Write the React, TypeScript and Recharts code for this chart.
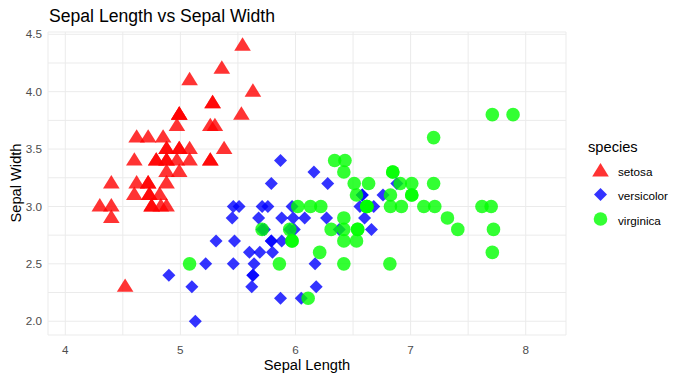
import { ScatterChart, Scatter, XAxis, YAxis, CartesianGrid } from 'recharts';

// sepal length / width per species
const setosaX = [5.54, 5.36, 5.08, 5.63, 5.28, 5.28, 4.99, 4.99, 4.99, 5.53, 4.97, 5.26, 5.3, 4.62, 4.72, 4.85, 4.88, 4.88, 4.99, 4.99, 5.08, 5.38, 4.6, 4.79, 4.79, 4.88, 4.88, 4.97, 5.08, 5.26, 5.26, 4.88, 4.99, 4.4, 4.62, 4.72, 4.72, 4.88, 4.6, 4.73, 4.73, 4.82, 4.3, 4.4, 4.75, 4.75, 4.83, 4.88, 4.4, 4.52];
const setosaY = [4.4, 4.2, 4.1, 4.0, 3.9, 3.9, 3.8, 3.8, 3.8, 3.8, 3.7, 3.7, 3.7, 3.6, 3.6, 3.6, 3.5, 3.5, 3.5, 3.5, 3.5, 3.5, 3.4, 3.4, 3.4, 3.4, 3.4, 3.4, 3.4, 3.4, 3.4, 3.3, 3.3, 3.2, 3.2, 3.2, 3.2, 3.2, 3.1, 3.1, 3.1, 3.1, 3.0, 3.0, 3.0, 3.0, 3.0, 3.0, 2.9, 2.3];

const versicolorX = [5.87, 6.16, 5.79, 6.28, 6.88, 6.58, 6.58, 6.76, 5.46, 5.51, 5.71, 5.76, 5.97, 6.56, 6.63, 6.68, 5.45, 5.68, 5.88, 5.98, 6.08, 6.27, 6.6, 5.71, 5.73, 5.95, 5.99, 6.38, 6.66, 5.31, 5.47, 5.79, 5.79, 5.88, 5.6, 5.69, 5.8, 5.22, 5.46, 5.64, 6.17, 4.9, 5.63, 5.63, 5.1, 5.62, 6.18, 5.87, 6.05, 5.13];
const versicolorY = [3.4, 3.3, 3.2, 3.2, 3.2, 3.1, 3.1, 3.1, 3.0, 3.0, 3.0, 3.0, 3.0, 3.0, 3.0, 3.0, 2.9, 2.9, 2.9, 2.9, 2.9, 2.9, 2.9, 2.8, 2.8, 2.8, 2.8, 2.8, 2.8, 2.7, 2.7, 2.7, 2.7, 2.7, 2.6, 2.6, 2.6, 2.5, 2.5, 2.5, 2.5, 2.4, 2.4, 2.4, 2.3, 2.3, 2.3, 2.2, 2.2, 2.0];

const virginicaX = [7.71, 7.89, 7.2, 6.34, 6.43, 6.42, 6.845, 6.845, 6.51, 6.635, 6.91, 7.01, 7.2, 6.53, 6.825, 7.01, 7.01, 6.02, 6.13, 6.22, 6.62, 6.62, 6.62, 6.825, 6.92, 7.115, 7.21, 7.62, 7.7, 6.42, 7.32, 5.71, 5.95, 6.31, 6.42, 6.54, 6.54, 7.41, 7.72, 5.97, 5.97, 6.42, 6.53, 6.21, 7.71, 5.08, 5.86, 6.42, 6.82, 6.11];
const virginicaY = [3.8, 3.8, 3.6, 3.4, 3.4, 3.3, 3.3, 3.3, 3.2, 3.2, 3.2, 3.2, 3.2, 3.1, 3.1, 3.1, 3.1, 3.0, 3.0, 3.0, 3.0, 3.0, 3.0, 3.0, 3.0, 3.0, 3.0, 3.0, 3.0, 2.9, 2.9, 2.8, 2.8, 2.8, 2.8, 2.8, 2.8, 2.8, 2.8, 2.7, 2.7, 2.7, 2.7, 2.6, 2.6, 2.5, 2.5, 2.5, 2.5, 2.2];

const xTicks = [4, 4.5, 5, 5.5, 6, 6.5, 7, 7.5, 8];
const yTicks = [2, 2.25, 2.5, 2.75, 3, 3.25, 3.5, 3.75, 4, 4.25, 4.5];

const RED = '#FF0000';
const BLUE = '#0000FF';
const GREEN = '#00FF00';
const FONT = '"Liberation Sans", Arial, sans-serif';

const toPoints = (xs: number[], ys: number[]) => xs.map((x, i) => ({ x, y: ys[i] }));

const setosa = toPoints(setosaX, setosaY);
const versicolor = toPoints(versicolorX, versicolorY);
const virginica = toPoints(virginicaX, virginicaY);

function Triangle({ cx, cy }: any) {
    return (
        <polygon
            points={`${cx},${cy - 8.4} ${cx + 8.3},${cy + 5} ${cx - 8.3},${cy + 5}`}
            fill={RED}
            fillOpacity={0.8}
        />
    );
}

function Diamond({ cx, cy }: any) {
    return (
        <polygon
            points={`${cx},${cy - 6.5} ${cx + 6.5},${cy} ${cx},${cy + 6.5} ${cx - 6.5},${cy}`}
            fill={BLUE}
            fillOpacity={0.8}
        />
    );
}

function Dot({ cx, cy }: any) {
    return <circle cx={cx} cy={cy} r={6.8} fill={GREEN} fillOpacity={0.8} />;
}

const legendItems = [
    { label: 'setosa', Shape: Triangle },
    { label: 'versicolor', Shape: Diamond },
    { label: 'virginica', Shape: Dot }
];

export default function App() {
    const tickStyle = { fill: '#4D4D4D', fontSize: 11.7, fontFamily: FONT };

    return (
        <div style={{ position: 'absolute', left: 0, top: 0, width: 687, height: 380, background: '#fff' }}>
            <ScatterChart width={687} height={380} margin={{ top: 32, right: 121, bottom: 20, left: 8 }}>
                <CartesianGrid stroke="#EBEBEB" strokeWidth={1} />
                <XAxis
                    type="number"
                    dataKey="x"
                    domain={[3.85, 8.35]}
                    allowDataOverflow
                    ticks={xTicks}
                    interval={0}
                    tickFormatter={(v) => (Number.isInteger(v) ? String(v) : '')}
                    axisLine={false}
                    tickLine={false}
                    tickSize={0}
                    tickMargin={11}
                    height={25}
                    tick={tickStyle}
                />
                <YAxis
                    type="number"
                    dataKey="y"
                    domain={[1.88, 4.52]}
                    allowDataOverflow
                    ticks={yTicks}
                    interval={0}
                    tickFormatter={(v) => ((v * 2) % 1 === 0 ? v.toFixed(1) : '')}
                    axisLine={false}
                    tickLine={false}
                    tickSize={0}
                    tickMargin={6}
                    width={40}
                    tick={tickStyle}
                />
                <Scatter data={setosa} shape={(p: any) => <Triangle {...p} />} isAnimationActive={false} />
                <Scatter data={versicolor} shape={(p: any) => <Diamond {...p} />} isAnimationActive={false} />
                <Scatter data={virginica} shape={(p: any) => <Dot {...p} />} isAnimationActive={false} />
            </ScatterChart>

            <svg
                width={687}
                height={380}
                style={{ position: 'absolute', left: 0, top: 0, pointerEvents: 'none' }}
                fontFamily={FONT}
            >
                <text x={49} y={22} fontSize={17.6} fill="#000">Sepal Length vs Sepal Width</text>
                <text x={307} y={370} fontSize={14.67} fill="#000" textAnchor="middle">Sepal Length</text>
                <text
                    x={21}
                    y={183}
                    fontSize={14.67}
                    fill="#000"
                    textAnchor="middle"
                    transform="rotate(-90 21 183)"
                >
                    Sepal Width
                </text>

                <text x={588} y={152} fontSize={14.67} fill="#000">species</text>
                {legendItems.map((item, i) => {
                    const cy = 170 + i * 24.5;
                    return (
                        <g key={item.label}>
                            <item.Shape cx={600.5} cy={cy + (i === 0 ? 1.5 : 0)} />
                            <text x={618} y={cy + 5.5} fontSize={11.7} fill="#000">{item.label}</text>
                        </g>
                    );
                })}
            </svg>
        </div>
    );
}
